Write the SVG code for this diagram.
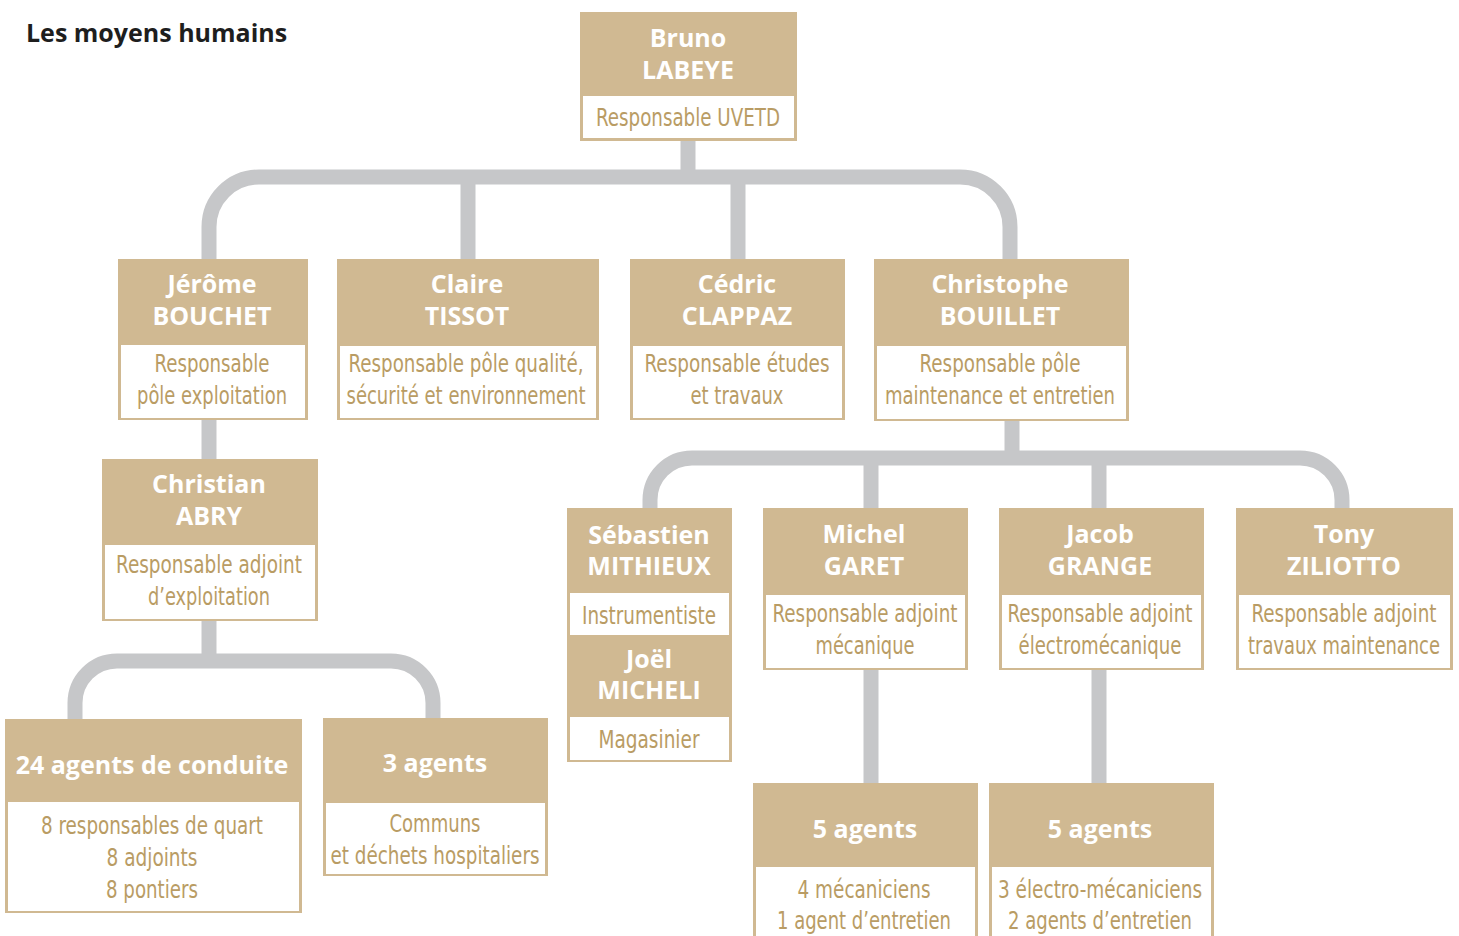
<svg xmlns="http://www.w3.org/2000/svg" width="1459" height="936" viewBox="0 0 1459 936">
<style>
.bg{fill:#ffffff}
.box{fill:#D0B992}
.in{fill:#ffffff}
.nm{font-family:"Open Sans","Noto Sans","Liberation Sans",sans-serif;font-weight:700;font-size:25px;fill:#ffffff;text-anchor:middle}
.sb{font-family:"Liberation Sans Narrow","DejaVu Sans Condensed","Roboto","Liberation Sans",sans-serif;font-weight:400;font-size:25px;fill:#B99C64;text-anchor:middle}
.ttl{font-family:"Open Sans","Noto Sans","Liberation Sans",sans-serif;font-weight:700;font-size:25px;fill:#1e1e1e}
.cn{fill:none;stroke:#C6C7C9;stroke-width:15}
</style>
<rect class="bg" x="0" y="0" width="1459" height="936"/>
<text class="ttl" x="26" y="42">Les moyens humains</text>

<g id="connectors">
<path class="cn" d="M688 141 V177"/>
<path class="cn" d="M209 259 V227 A50 50 0 0 1 259 177 H960 A50 50 0 0 1 1010 227 V259"/>
<path class="cn" d="M468 177 V259"/>
<path class="cn" d="M738 177 V259"/>
<path class="cn" d="M209 420 V459"/>
<path class="cn" d="M209 621 V661"/>
<path class="cn" d="M75 719 V703 A42 42 0 0 1 117 661 H391 A42 42 0 0 1 433 703 V718"/>
<path class="cn" d="M1012 421 V458"/>
<path class="cn" d="M650 508 V500 A42 42 0 0 1 692 458 H1300 A42 42 0 0 1 1342 500 V508"/>
<path class="cn" d="M871 458 V508"/>
<path class="cn" d="M1099 458 V508"/>
<path class="cn" d="M871 670 V783"/>
<path class="cn" d="M1099 670 V783"/>
</g>

<g id="n-bruno">
<rect class="box" x="580" y="12" width="217" height="129"/>
<rect class="in" x="583" y="96" width="211" height="42"/>
<text class="nm" x="688" y="47">Bruno</text>
<text class="nm" x="688" y="79">LABEYE</text>
<text class="sb" x="688" y="126" textLength="184" lengthAdjust="spacingAndGlyphs">Responsable UVETD</text>
</g>

<g id="n-jerome">
<rect class="box" x="118" y="259" width="190" height="161"/>
<rect class="in" x="121" y="345" width="184" height="73"/>
<text class="nm" x="212" y="293">Jérôme</text>
<text class="nm" x="212" y="325">BOUCHET</text>
<text class="sb" x="212" y="372" textLength="115" lengthAdjust="spacingAndGlyphs">Responsable</text>
<text class="sb" x="212" y="404" textLength="150" lengthAdjust="spacingAndGlyphs">pôle exploitation</text>
</g>

<g id="n-claire">
<rect class="box" x="337" y="259" width="262" height="161"/>
<rect class="in" x="340" y="346" width="256" height="72"/>
<text class="nm" x="467" y="293">Claire</text>
<text class="nm" x="467" y="325">TISSOT</text>
<text class="sb" x="466" y="372" textLength="235" lengthAdjust="spacingAndGlyphs">Responsable pôle qualité,</text>
<text class="sb" x="466" y="404" textLength="239" lengthAdjust="spacingAndGlyphs">sécurité et environnement</text>
</g>

<g id="n-cedric">
<rect class="box" x="630" y="259" width="215" height="161"/>
<rect class="in" x="633" y="346" width="209" height="72"/>
<text class="nm" x="737" y="293">Cédric</text>
<text class="nm" x="737" y="325">CLAPPAZ</text>
<text class="sb" x="737" y="372" textLength="185" lengthAdjust="spacingAndGlyphs">Responsable études</text>
<text class="sb" x="737" y="404" textLength="93" lengthAdjust="spacingAndGlyphs">et travaux</text>
</g>

<g id="n-christophe">
<rect class="box" x="874" y="259" width="255" height="162"/>
<rect class="in" x="877" y="346" width="249" height="73"/>
<text class="nm" x="1000" y="293">Christophe</text>
<text class="nm" x="1000" y="325">BOUILLET</text>
<text class="sb" x="1000" y="372" textLength="161" lengthAdjust="spacingAndGlyphs">Responsable pôle</text>
<text class="sb" x="1000" y="404" textLength="230" lengthAdjust="spacingAndGlyphs">maintenance et entretien</text>
</g>

<g id="n-christian">
<rect class="box" x="102" y="459" width="216" height="162"/>
<rect class="in" x="105" y="545" width="210" height="74"/>
<text class="nm" x="209" y="493">Christian</text>
<text class="nm" x="209" y="525">ABRY</text>
<text class="sb" x="209" y="573" textLength="186" lengthAdjust="spacingAndGlyphs">Responsable adjoint</text>
<text class="sb" x="209" y="605" textLength="122" lengthAdjust="spacingAndGlyphs">d’exploitation</text>
</g>

<g id="n-sebastien">
<rect class="box" x="567" y="508" width="165" height="254"/>
<rect class="in" x="570" y="593" width="159" height="42"/>
<rect class="in" x="570" y="717" width="159" height="43"/>
<text class="nm" x="649" y="544">Sébastien</text>
<text class="nm" x="649" y="575">MITHIEUX</text>
<text class="sb" x="649" y="624" textLength="134" lengthAdjust="spacingAndGlyphs">Instrumentiste</text>
<text class="nm" x="649" y="668">Joël</text>
<text class="nm" x="649" y="699">MICHELI</text>
<text class="sb" x="649" y="748" textLength="101" lengthAdjust="spacingAndGlyphs">Magasinier</text>
</g>

<g id="n-michel">
<rect class="box" x="763" y="508" width="205" height="162"/>
<rect class="in" x="766" y="595" width="199" height="73"/>
<text class="nm" x="864" y="543">Michel</text>
<text class="nm" x="864" y="575">GARET</text>
<text class="sb" x="865" y="622" textLength="185" lengthAdjust="spacingAndGlyphs">Responsable adjoint</text>
<text class="sb" x="865" y="654" textLength="99" lengthAdjust="spacingAndGlyphs">mécanique</text>
</g>

<g id="n-jacob">
<rect class="box" x="999" y="508" width="205" height="162"/>
<rect class="in" x="1002" y="595" width="199" height="73"/>
<text class="nm" x="1100" y="543">Jacob</text>
<text class="nm" x="1100" y="575">GRANGE</text>
<text class="sb" x="1100" y="622" textLength="185" lengthAdjust="spacingAndGlyphs">Responsable adjoint</text>
<text class="sb" x="1100" y="654" textLength="163" lengthAdjust="spacingAndGlyphs">électromécanique</text>
</g>

<g id="n-tony">
<rect class="box" x="1236" y="508" width="217" height="162"/>
<rect class="in" x="1239" y="595" width="211" height="73"/>
<text class="nm" x="1344" y="543">Tony</text>
<text class="nm" x="1344" y="575">ZILIOTTO</text>
<text class="sb" x="1344" y="622" font-size="24" textLength="185" lengthAdjust="spacingAndGlyphs">Responsable adjoint</text>
<text class="sb" x="1344" y="654" font-size="24" textLength="192" lengthAdjust="spacingAndGlyphs">travaux maintenance</text>
</g>

<g id="n-conduite">
<rect class="box" x="5" y="719" width="297" height="194"/>
<rect class="in" x="8" y="802" width="291" height="109"/>
<text class="nm" x="152" y="774">24 agents de conduite</text>
<text class="sb" x="152" y="834" textLength="222" lengthAdjust="spacingAndGlyphs">8 responsables de quart</text>
<text class="sb" x="152" y="866" textLength="91" lengthAdjust="spacingAndGlyphs">8 adjoints</text>
<text class="sb" x="152" y="898" textLength="92" lengthAdjust="spacingAndGlyphs">8 pontiers</text>
</g>

<g id="n-communs">
<rect class="box" x="323" y="718" width="225" height="158"/>
<rect class="in" x="326" y="803" width="219" height="71"/>
<text class="nm" x="435" y="772">3 agents</text>
<text class="sb" x="435" y="832" textLength="91" lengthAdjust="spacingAndGlyphs">Communs</text>
<text class="sb" x="435" y="864" textLength="209" lengthAdjust="spacingAndGlyphs">et déchets hospitaliers</text>
</g>

<g id="n-meca">
<rect class="box" x="753" y="783" width="225" height="160"/>
<rect class="in" x="756" y="867" width="219" height="76"/>
<text class="nm" x="865" y="838">5 agents</text>
<text class="sb" x="864" y="898" textLength="133" lengthAdjust="spacingAndGlyphs">4 mécaniciens</text>
<text class="sb" x="864" y="929" textLength="174" lengthAdjust="spacingAndGlyphs">1 agent d’entretien</text>
</g>

<g id="n-electro">
<rect class="box" x="989" y="783" width="225" height="160"/>
<rect class="in" x="992" y="867" width="219" height="76"/>
<text class="nm" x="1100" y="838">5 agents</text>
<text class="sb" x="1100" y="898" textLength="204" lengthAdjust="spacingAndGlyphs">3 électro-mécaniciens</text>
<text class="sb" x="1100" y="929" textLength="184" lengthAdjust="spacingAndGlyphs">2 agents d’entretien</text>
</g>
</svg>
